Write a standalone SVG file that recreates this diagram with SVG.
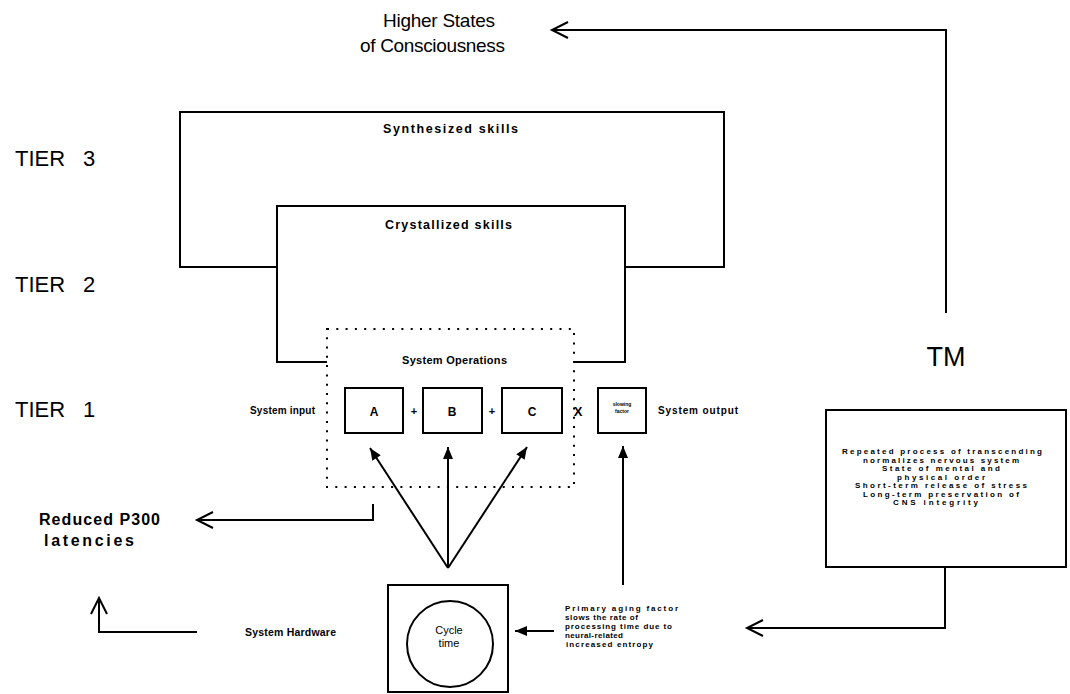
<svg xmlns="http://www.w3.org/2000/svg" width="1070" height="694" viewBox="0 0 1070 694">
  <style>
    text { font-family: "Liberation Sans", Arial, sans-serif; fill: #000; }
    .big { font-size: 22px; }
    .title { font-size: 19px; }
    .mid { font-size: 16px; font-weight: bold; }
    .lbl { font-size: 12px; font-weight: bold; }
    .tiny { font-size: 8px; font-weight: bold; }
    .micro { font-size: 5px; font-weight: bold; }
    .box { fill: none; stroke: #000; stroke-width: 2; }
    .line { fill: none; stroke: #000; stroke-width: 2; }
    .dots { fill: none; stroke: #000; stroke-width: 2; stroke-dasharray: 2 7.3; }
  </style>
  <defs>
    <marker id="open" markerUnits="userSpaceOnUse" viewBox="-20 -12 24 24" refX="0" refY="0" markerWidth="24" markerHeight="24" orient="auto">
      <path d="M-16,-8 L0,0 L-16,8" fill="none" stroke="#000" stroke-width="2"/>
    </marker>
    <marker id="solid" markerUnits="userSpaceOnUse" viewBox="-14 -8 16 16" refX="0" refY="0" markerWidth="16" markerHeight="16" orient="auto">
      <path d="M-12,-5 L0,0 L-12,5 Z" fill="#000"/>
    </marker>
  </defs>
  <rect width="1070" height="694" fill="#fff"/>

  <!-- tier labels -->
  <g id="tiers" class="big">
    <text x="15" y="166">TIER</text><text x="83" y="166">3</text>
    <text x="15" y="292">TIER</text><text x="83" y="292">2</text>
    <text x="15" y="417">TIER</text><text x="83" y="417">1</text>
  </g>

  <g id="higher-states">
    <text class="title" x="383" y="27" textLength="112">Higher States</text>
    <text class="title" x="360" y="52" textLength="145">of Consciousness</text>
  </g>

  <g id="synthesized">
    <path class="box" d="M277,267 H180 V112 H724 V267 H625"/>
    <text class="lbl" x="383" y="133" textLength="135" style="font-size:12.5px">Synthesized skills</text>
  </g>

  <g id="crystallized">
    <path class="box" d="M327,362 H277 V206 H625 V362 H574"/>
    <text class="lbl" x="385" y="229" textLength="127" style="font-size:12.5px">Crystallized skills</text>
  </g>

  <g id="system-operations">
    <rect class="dots" x="327" y="329" width="247" height="158"/>
    <text class="lbl" x="402" y="364" textLength="105" style="font-size:11px">System Operations</text>
  </g>

  <g id="system-input"><text class="lbl" x="250" y="414" textLength="65" style="font-size:10px">System input</text></g>

  <g id="box-a">
    <rect class="box" x="345" y="388" width="58" height="45"/>
    <text x="374" y="416" text-anchor="middle" style="font-size:12px;font-weight:bold">A</text>
  </g>
  <g id="box-b">
    <rect class="box" x="423" y="388" width="59" height="45"/>
    <text x="452" y="416" text-anchor="middle" style="font-size:12px;font-weight:bold">B</text>
  </g>
  <g id="box-c">
    <rect class="box" x="502" y="388" width="60" height="45"/>
    <text x="532" y="416" text-anchor="middle" style="font-size:12px;font-weight:bold">C</text>
  </g>
  <g id="operators" style="font-weight:bold">
    <text x="414" y="415" text-anchor="middle" style="font-size:11px">+</text>
    <text x="492" y="415" text-anchor="middle" style="font-size:11px">+</text>
    <text x="578" y="416" text-anchor="middle" style="font-size:13px">X</text>
  </g>
  <g id="slowing-factor">
    <rect class="box" x="598" y="388" width="48" height="45"/>
    <text class="micro" x="622" y="406" text-anchor="middle">slowing</text>
    <text class="micro" x="622" y="413" text-anchor="middle">factor</text>
  </g>
  <g id="system-output"><text class="lbl" x="658" y="414" textLength="80" style="font-size:10px">System output</text></g>

  <g id="reduced-p300">
    <text class="mid" x="39" y="525" textLength="121">Reduced P300</text>
    <text class="mid" x="44" y="546" textLength="90">latencies</text>
  </g>

  <g id="system-hardware"><text class="lbl" x="245" y="636" textLength="91" style="font-size:10.5px">System Hardware</text></g>

  <g id="cycle-time">
    <rect class="box" x="388" y="585" width="120" height="107"/>
    <ellipse cx="450" cy="644" rx="43" ry="43" fill="none" stroke="#000" stroke-width="2"/>
    <text x="449" y="634" text-anchor="middle" style="font-size:11px">Cycle</text>
    <text x="449" y="647" text-anchor="middle" style="font-size:11px">time</text>
  </g>

  <g id="aging-factor" class="tiny">
    <text x="565" y="611" textLength="113">Primary aging factor</text>
    <text x="565" y="620" textLength="73">slows the rate of</text>
    <text x="565" y="629" textLength="107">processing time due to</text>
    <text x="565" y="638" textLength="58">neural-related</text>
    <text x="566" y="647" textLength="87">increased entropy</text>
  </g>

  <g id="tm">
    <text x="946" y="366" text-anchor="middle" style="font-size:27px">TM</text>
  </g>

  <g id="tm-effects">
    <rect class="box" x="826" y="410" width="240" height="157"/>
    <g class="tiny">
      <text x="842" y="454" textLength="200">Repeated process of transcending</text>
      <text x="863" y="462.5" textLength="156">normalizes nervous system</text>
      <text x="882" y="471" textLength="118">State of mental and</text>
      <text x="897" y="479.5" textLength="88">physical order</text>
      <text x="855" y="488" textLength="172">Short-term release of stress</text>
      <text x="863" y="496.5" textLength="156">Long-term preservation of</text>
      <text x="893" y="505" textLength="85">CNS integrity</text>
    </g>
  </g>

  <g id="connectors">
    <polyline class="line" points="946,313 946,30 552,30" marker-end="url(#open)"/>
    <polyline class="line" points="373,504 373,520 197,520" marker-end="url(#open)"/>
    <polyline class="line" points="197,632 99,632 99,598" marker-end="url(#open)"/>
    <polyline class="line" points="945,567 945,628 747,628" marker-end="url(#open)"/>
    <line class="line" x1="554" y1="631" x2="515" y2="631" marker-end="url(#solid)"/>
    <line class="line" x1="448" y1="568" x2="370" y2="448" marker-end="url(#solid)"/>
    <line class="line" x1="448" y1="568" x2="448" y2="447" marker-end="url(#solid)"/>
    <line class="line" x1="448" y1="568" x2="527" y2="447" marker-end="url(#solid)"/>
    <line class="line" x1="623" y1="585" x2="623" y2="446" marker-end="url(#solid)"/>
  </g>
</svg>
